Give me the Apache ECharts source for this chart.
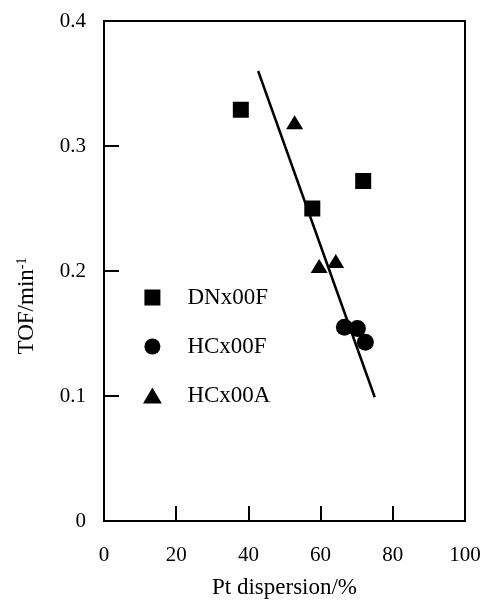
<!DOCTYPE html>
<html>
<head>
<meta charset="utf-8">
<script src="https://cdn.jsdelivr.net/npm/echarts@6/dist/echarts.min.js"></script>
<style>
  html, body { margin: 0; padding: 0; background: #fff; }
  #main { width: 485px; height: 604px; }
</style>
</head>
<body>
<div id="main"></div>
<script>
  // values: [Pt dispersion %, TOF /min]
  var dnx00f = [[37.9, 0.329], [57.7, 0.250], [71.8, 0.272]]
  var hcx00f = [[66.6, 0.155], [70.2, 0.154], [72.4, 0.143]]
  var hcx00a = [[52.8, 0.319], [59.6, 0.204], [64.2, 0.208]]
  // fitted straight line, end points
  var fitLine = [[42.7, 0.36], [75.0, 0.099]]

  var xTicks = [0, 20, 40, 60, 80, 100]
  var yTicks = [0, 0.1, 0.2, 0.3, 0.4]

  var font = 'Liberation Serif'
  var myChart = echarts.init(document.getElementById('main'))

  var option = {
    backgroundColor: '#fff',
    animation: false,
    grid: {
      left: 104,
      right: 20,
      top: 21,
      bottom: 79,
      show: true,
      borderColor: '#000',
      borderWidth: 2,
      backgroundColor: 'transparent',
    },
    legend: {
      orient: 'vertical',
      left: 138,
      top: 281,
      itemWidth: 60,
      itemHeight: 16,
      itemGap: 26,
      symbolKeepAspect: true,
      itemStyle: { opacity: 1, color: '#000' },
      textStyle: { fontFamily: font, fontSize: 23, color: '#000' },
      data: [
        { name: 'DNx00F', icon: 'path://M0,0L1,0L1,1L0,1Z' },
        { name: 'HCx00F', icon: 'path://M0,0.5A0.5,0.5,0,1,1,1,0.5A0.5,0.5,0,1,1,0,0.5Z' },
        { name: 'HCx00A', icon: 'path://M0.5,0L1,0.85L0,0.85Z' },
      ],
    },
    xAxis: {
      type: 'value',
      min: 0,
      max: 100,
      interval: 20,
      name: 'Pt dispersion/%',
      nameLocation: 'middle',
      nameGap: 55,
      nameTextStyle: { fontFamily: font, fontSize: 23, color: '#000' },
      axisLine: { show: false },
      axisTick: { inside: true, length: 15, lineStyle: { color: '#000', width: 2 } },
      axisLabel: {
        margin: 24,
        fontFamily: font,
        fontSize: 21,
        color: '#000',
        formatter: function (v) { return xTicks.indexOf(v) >= 0 ? String(v) : '' },
      },
      splitLine: { show: false },
    },
    yAxis: {
      type: 'value',
      min: 0,
      max: 0.4,
      interval: 0.1,
      axisLine: { show: false },
      axisTick: { inside: true, length: 15, lineStyle: { color: '#000', width: 2 } },
      axisLabel: {
        margin: 18,
        fontFamily: font,
        fontSize: 21,
        color: '#000',
        formatter: function (v) {
          var t = yTicks.filter(function (k) { return Math.abs(k - v) < 1e-9 })[0]
          return t === 0 ? '0' : t.toFixed(1)
        },
      },
      splitLine: { show: false },
    },
    graphic: [
      {
        type: 'text',
        x: 27,
        y: 306,
        rotation: Math.PI / 2,
        style: {
          text: '{a|TOF/min}{b|-1}',
          align: 'center',
          verticalAlign: 'middle',
          fill: '#000',
          rich: {
            a: { fontFamily: font, fontSize: 23, lineHeight: 24, fill: '#000' },
            b: { fontFamily: font, fontSize: 14, lineHeight: 24, verticalAlign: 'top', fill: '#000' },
          },
        },
      },
    ],
    series: [
      {
        name: 'fit',
        type: 'line',
        data: fitLine,
        symbol: 'none',
        lineStyle: { color: '#000', width: 2.5 },
        z: 1,
      },
      {
        name: 'DNx00F',
        type: 'scatter',
        symbol: 'rect',
        symbolSize: 16,
        itemStyle: { color: '#000', opacity: 1 },
        data: dnx00f,
        z: 2,
      },
      {
        name: 'HCx00F',
        type: 'scatter',
        symbol: 'circle',
        symbolSize: 17,
        itemStyle: { color: '#000', opacity: 1 },
        data: hcx00f,
        z: 2,
      },
      {
        name: 'HCx00A',
        type: 'scatter',
        symbol: 'triangle',
        symbolSize: [17, 14],
        itemStyle: { color: '#000', opacity: 1 },
        data: hcx00a,
        z: 2,
      },
    ],
  }

  myChart.setOption(option)
  window.addEventListener('resize', function () {
    myChart.resize()
  })
</script>
</body>
</html>
